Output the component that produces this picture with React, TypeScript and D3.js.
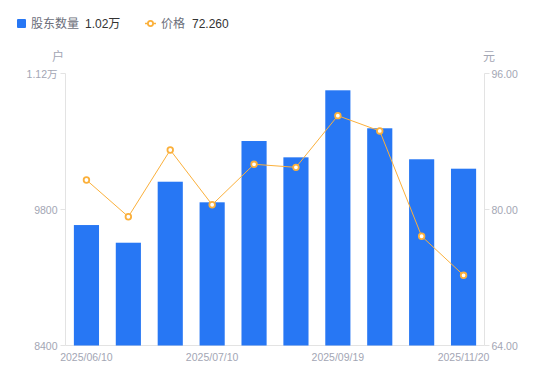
import React from "react";
import * as d3 from "d3";

const categories = [
  "2025/06/10", "2025/06/20", "2025/06/30", "2025/07/10", "2025/07/31",
  "2025/08/20", "2025/09/19", "2025/09/30", "2025/10/31", "2025/11/20",
];
const holders = [9640, 9458, 10086, 9874, 10505, 10337, 11027, 10636, 10317, 10220];
const prices = [83.47, 79.15, 87.0, 80.56, 85.32, 84.96, 91.04, 89.24, 76.85, 72.26];
const leftTicks = [8400, 9800, 11200];
const leftTickLabels = ["8400", "9800", "1.12万"];
const rightTicks = [64, 80, 96];
const xLabelIdx = [0, 3, 6, 9];

const W = 550;
const H = 381;
const M = { left: 65.5, right: 484.5, top: 73.5, bottom: 345.5 };
const FONT = "'Liberation Sans', Arial, 'Noto Sans CJK SC', sans-serif";
const BLUE = "#2777f4";
const ORANGE = "#fbb03b";
const TICK_TXT = "#a3a6b4";
const AXIS = "#e3e3e3";

export default function App() {
  const yL = d3.scaleLinear().domain([8400, 11200]).range([M.bottom, M.top]);
  const yR = d3.scaleLinear().domain([64, 96]).range([M.bottom, M.top]);
  const x = d3.scaleBand<number>().domain(d3.range(categories.length)).range([M.left, M.right]).paddingInner(0.4).paddingOuter(0.2);
  const band = x.step();
  const cx = (i: number) => M.left + band * (i + 0.5);
  const bw = band * 0.6;
  const line = d3.line<number>().x((_, i) => cx(i)).y((d) => yR(d));

  return (
    <div style={{ position: "absolute", left: 0, top: 0 }}>
      <svg width={W} height={H} style={{ display: "block", fontFamily: FONT }}>
        <rect width={W} height={H} fill="#fff" />
        {/* legend */}
        <rect x={17} y={19} width={9} height={9} rx={1} fill={BLUE} />
        <text x={31} y={28} fontSize={12} fill="#6b6e7a">股东数量</text>
        <text x={85} y={28} fontSize={12} fill="#333">1.02万</text>
        <line x1={145} x2={156} y1={23.5} y2={23.5} stroke={ORANGE} strokeWidth={1.5} />
        <circle cx={150.5} cy={23.5} r={2.6} fill="#fff" stroke={ORANGE} strokeWidth={1.8} />
        <text x={161} y={28} fontSize={12} fill="#6b6e7a">价格</text>
        <text x={192} y={28} fontSize={12} fill="#333">72.260</text>

        {/* unit labels */}
        <text x={58} y={61} fontSize={12} fill={TICK_TXT} textAnchor="middle">户</text>
        <text x={489} y={61} fontSize={12} fill={TICK_TXT} textAnchor="middle">元</text>

        {/* axes */}
        <line x1={M.left} x2={M.left} y1={M.top} y2={M.bottom} stroke={AXIS} />
        <line x1={M.right} x2={M.right} y1={M.top} y2={M.bottom} stroke={AXIS} />
        <line x1={M.left} x2={M.right} y1={M.bottom} y2={M.bottom} stroke={AXIS} />
        {leftTicks.map((t, i) => (
          <g key={"l" + t}>
            <line x1={M.left - 5} x2={M.left} y1={yL(t)} y2={yL(t)} stroke={AXIS} />
            <text x={M.left - 8} y={yL(t) + 4} fontSize={10.5} fill={TICK_TXT} textAnchor="end">{leftTickLabels[i]}</text>
          </g>
        ))}
        {rightTicks.map((t) => (
          <g key={"r" + t}>
            <line x1={M.right} x2={M.right + 5} y1={yR(t)} y2={yR(t)} stroke={AXIS} />
            <text x={M.right + 7} y={yR(t) + 4} fontSize={10.5} fill={TICK_TXT}>{t.toFixed(2)}</text>
          </g>
        ))}

        {/* bars */}
        {holders.map((v, i) => (
          <rect key={"b" + i} x={cx(i) - bw / 2} y={yL(v)} width={bw} height={M.bottom - yL(v)} fill={BLUE} />
        ))}

        {/* x labels */}
        {xLabelIdx.map((i) => (
          <text key={"x" + i} x={cx(i)} y={361} fontSize={10.5} fill={TICK_TXT} textAnchor="middle">{categories[i]}</text>
        ))}

        {/* price line */}
        <path d={line(prices) || ""} fill="none" stroke={ORANGE} strokeWidth={1} />
        {prices.map((p, i) => (
          <circle key={"p" + i} cx={cx(i)} cy={yR(p)} r={2.8} fill="#fff" stroke={ORANGE} strokeWidth={1.8} />
        ))}
      </svg>
    </div>
  );
}
